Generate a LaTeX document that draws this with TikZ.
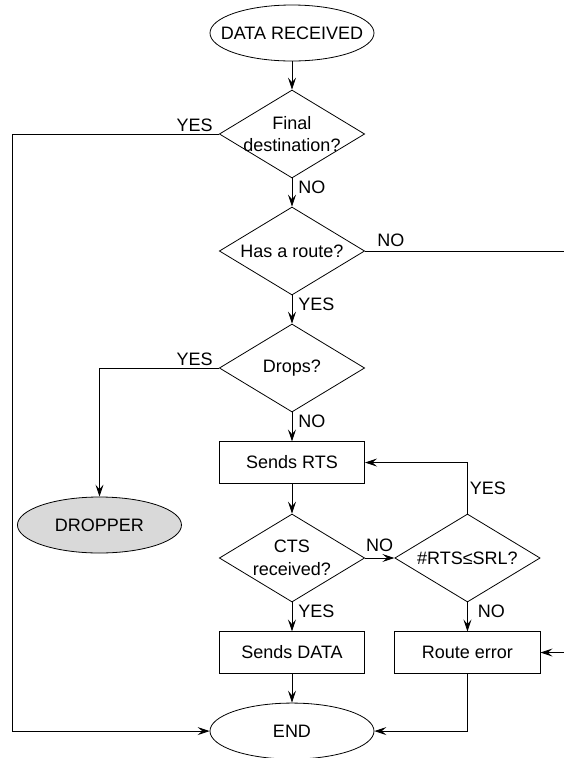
\documentclass[tikz,border=0pt]{standalone}
\usepackage{fontspec}
\setmainfont{Liberation Sans}
\usetikzlibrary{positioning}
\usetikzlibrary{arrows.meta}
\usetikzlibrary{shapes.geometric}

\begin{document}
\begin{tikzpicture}[
            node distance=70.9pt,
            line width=0.6pt,
            every node/.style={font=\fontsize{13.5}{17}\selectfont},
            terminal/.style={ellipse, draw, inner xsep=-12pt, inner ysep=0pt, minimum width=123pt, minimum height=42pt},
            decision/.style={diamond, draw, aspect=1.65, inner sep=-3pt, align=center, minimum width=109pt, minimum height=66pt},
            process/.style={rectangle, draw, minimum width=109pt, minimum height=31pt},
            tag/.style={inner sep=1.5pt},
            arrow style/.style={-{Stealth[length=9pt, width=6pt, inset=3.5pt]}}
        ]

        \useasboundingbox (-219pt,24.75pt) rectangle (204pt,-543.75pt);
        \coordinate (ledge) at (-210pt,0);
        \coordinate (redge) at (204pt,0);

        \node (start) [terminal] {DATA RECEIVED};
        \node (dest) [decision, below of=start, node distance=75.75pt] {Final\\destination?};
        \node (route) [decision, below of=dest, node distance=87.75pt] {Has a route?};
        \node (drops) [decision, below of=route, node distance=87.75pt] {Drops?};
        \node (rts) [process, below of=drops] {Sends RTS};
        \node (cts) [decision, below of=rts, node distance=71.6pt] {CTS\\received?};
        \node (sdata) [process, below of=cts] {Sends DATA};
        \node (end) [terminal, below of=sdata, node distance=58.9pt] {END};
        \node (srl) [decision, right of=cts, node distance=131.6pt] {\#RTS≤SRL?};
        \node (err) [process, below of=srl] {Route error};
        \node (dropper) [terminal, fill=gray!30, below of=drops, node distance=117.75pt, xshift=-144.4pt] {DROPPER};

        \draw[arrow style] (start) -- (dest);
        \draw[arrow style] (dest) -- node[tag, pos=0, anchor=north west, xshift=3pt] {NO} (route);
        \draw[arrow style] (route) -- node[tag, pos=0, anchor=north west, xshift=3pt] {YES} (drops);
        \draw[arrow style] (drops) -- node[tag, pos=0, anchor=north west, xshift=3pt] {NO} (rts);
        \draw[arrow style] (rts) -- (cts);
        \draw[arrow style] (cts) -- node[tag, pos=0, anchor=north west, xshift=3pt] {YES} (sdata);
        \draw[arrow style] (sdata) -- (end);
        \draw[arrow style] (cts) -- node[tag, above, yshift=3pt] {NO} (srl);
        \draw[arrow style] (srl) -- node[tag, pos=0, anchor=north west, xshift=6pt] {NO} (err);
        \draw[arrow style] (srl.north) |- node[tag, pos=0.25, right] {YES} (rts.east);
        \draw[arrow style] (err.south) |- (end.east);
        \draw[arrow style] (dest.west) -- node[tag, pos=0, anchor=south east, xshift=-3pt] {YES} (dest.west -| ledge) |- (end.west);
        \draw[arrow style] (drops.west) -| node[tag, pos=0, anchor=south east, xshift=-3pt] {YES} (dropper.north);
        \draw (route.east) -- node[tag, pos=0.13, above, yshift=1.5pt] {NO} (route.east -| redge);
        \draw[arrow style] (err.east -| redge) -- (err.east);
        \end{tikzpicture}
\end{document}
